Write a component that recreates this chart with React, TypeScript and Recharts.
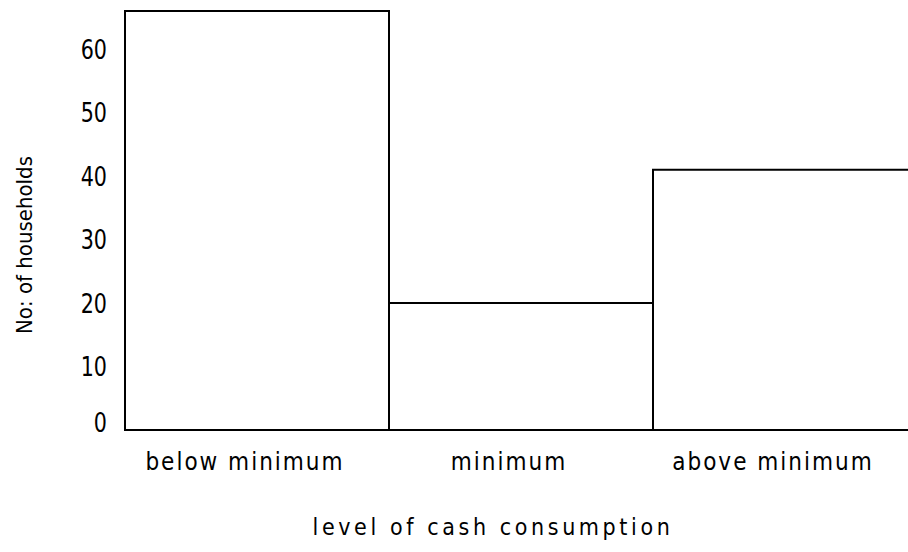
import React from 'react';
import { BarChart, Bar, XAxis, YAxis } from 'recharts';

const categories = ['below minimum', 'minimum', 'above minimum'];
const households = [66, 20, 41];
const yTicks = [0, 10, 20, 30, 40, 50, 60];
const xTitle = 'level of cash consumption';
const yTitle = 'No: of households';

const data = categories.map((c, i) => ({ category: c, value: households[i] }));

const FONT = '"DejaVu Sans Condensed", "DejaVu Sans", sans-serif';

const YTick = (props: any) => {
  const { y, payload } = props;
  const shift = payload.value === 0 ? -8 : 0;
  return (
    <text
      transform={`translate(107, ${y + shift}) scale(0.85, 1)`}
      x={0}
      y={0}
      dy="0.36em"
      textAnchor="end"
      fontFamily={FONT}
      fontSize={27}
      fill="#000"
    >
      {payload.value}
    </text>
  );
};

const XTick = (props: any) => {
  const { x, y, payload } = props;
  return (
    <text x={x - 12} y={y + 32} textAnchor="middle" fontFamily={FONT} fontSize={24} letterSpacing={2} fill="#000">
      {payload.value}
    </text>
  );
};

const XTitle = (props: any) => {
  const vb = props.viewBox || {};
  const cx = vb.x + vb.width / 2 - 28;
  return (
    <text x={cx} y={535} textAnchor="middle" fontFamily={FONT} fontSize={23} letterSpacing={3.6} fill="#000">
      {xTitle}
    </text>
  );
};

const YTitle = () => {
  return (
    <text
      x={0}
      y={0}
      transform="translate(32, 245) rotate(-90)"
      textAnchor="middle"
      fontFamily={FONT}
      fontSize={22}
      fill="#000"
    >
      {yTitle}
    </text>
  );
};

export default function App() {
  return (
    <div style={{ position: 'absolute', left: 0, top: 0, width: 908, height: 552, overflow: 'hidden', background: '#fff' }}>
      <BarChart
        width={930}
        height={552}
        data={data}
        margin={{ top: 11, right: 13, bottom: 0, left: 0 }}
        barCategoryGap={0}
        barGap={0}
      >
        <XAxis
          dataKey="category"
          axisLine={{ stroke: '#000', strokeWidth: 2 }}
          tickLine={false}
          height={122}
          tick={<XTick />}
          interval={0}
          label={<XTitle />}
        />
        <YAxis
          width={125}
          domain={[0, 66]}
          ticks={yTicks}
          axisLine={false}
          tickLine={false}
          tick={<YTick />}
          interval={0}
          label={<YTitle />}
        />
        <Bar dataKey="value" fill="#fff" stroke="#000" strokeWidth={2} isAnimationActive={false} />
      </BarChart>
    </div>
  );
}
